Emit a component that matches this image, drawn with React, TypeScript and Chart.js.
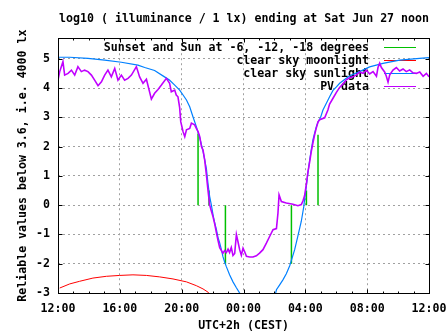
import React, { useEffect, useRef } from "react";
import { Chart, registerables } from "chart.js";
Chart.register(...registerables);

const FONT_FAMILY = "'DejaVu Sans Mono', 'Liberation Mono', monospace";
const TITLE = "log10 ( illuminance / 1 lx) ending at Sat Jun 27 noon";
const X_TITLE = "UTC+2h (CEST)";
const Y_TITLE = "Reliable values below 3.6, i.e. 4000 lx";
const START_HOUR = 12;
const X_MIN = 0;
const X_MAX = 24;
const X_TICK_STEP = 4;
const Y_MIN = -3;
const Y_MAX = 5.7;

const LABELS = [
  "Sunset and Sun at -6, -12, -18 degrees",
  "clear sky moonlight",
  "clear sky sunlight",
  "PV data",
];
const COLORS = ["#00c000", "#ff0000", "#0080ff", "#c000ff"];

// hours after 12:00 noon
const eventHours = [9.06, 9.77, 10.83, 15.1, 16.07, 16.82];
const eventValues = [2.45, 0.5, -2.0, -2.0, 0.5, 2.4];

const moonHours = [0.11, 0.76, 1.4, 2.26, 3.13, 3.99, 4.85, 5.72, 6.58, 7.44, 8.31, 8.95, 9.38, 9.7, 9.94];
const moonValues = [-2.83, -2.69, -2.6, -2.49, -2.43, -2.4, -2.38, -2.4, -2.45, -2.52, -2.62, -2.75, -2.86, -2.97, -3.1];

const sunHours = [
  0.0, 0.76, 1.94, 3.02, 4.1, 5.17, 5.61, 6.25, 6.89, 7.21, 7.55, 7.87, 8.09, 8.31, 8.52, 8.73, 8.95,
  9.17, 9.38, 9.6, 9.7, 9.81, 9.92, 10.03, 10.14, 10.25, 10.35, 10.46, 10.57, 10.67, 10.78, 10.89,
  11.1, 11.32, 11.54, 11.75, 12.0, 13.9,
  14.13, 14.34, 14.55, 14.77, 14.99, 15.31, 15.52, 15.74, 15.9, 15.95, 16.06, 16.17, 16.28, 16.38,
  16.49, 16.6, 16.71, 16.82, 16.99, 17.14, 17.36, 17.57, 17.79, 18.01, 18.22, 18.65, 18.87, 19.51,
  20.16, 21.02, 22.1, 23.39, 24.0,
];
const sunValues = [
  5.05, 5.05, 5.01, 4.95, 4.88, 4.78, 4.7, 4.6, 4.38, 4.27, 4.1, 3.93, 3.76, 3.59, 3.36, 3.02, 2.68,
  2.3, 1.85, 1.25, 0.75, 0.3, 0.01, -0.33, -0.61, -0.84, -1.1, -1.29, -1.52, -1.76, -1.94, -2.1,
  -2.38, -2.62, -2.82, -3.0, -3.4, -3.4,
  -2.89, -2.72, -2.55, -2.34, -2.07, -1.52, -1.05, -0.55, -0.05, 0.18, 0.62, 1.1, 1.54, 1.88,
  2.23, 2.46, 2.67, 2.84, 3.0, 3.25, 3.48, 3.7, 3.92, 4.04, 4.16, 4.33, 4.42, 4.56,
  4.72, 4.84, 4.95, 5.01, 5.04,
];

const pvHours = [
  0.0, 0.11, 0.32, 0.43, 0.65, 0.87, 1.08, 1.29, 1.51, 1.72, 1.94, 2.16, 2.37, 2.59, 2.81, 3.02,
  3.23, 3.45, 3.67, 3.88, 4.1, 4.31, 4.53, 4.75, 5.07, 5.28, 5.5, 5.72, 6.04, 6.25, 6.47, 6.69,
  7.01, 7.22, 7.33, 7.55, 7.65, 7.76, 7.87, 7.94, 8.09, 8.2, 8.31, 8.52, 8.63, 8.84, 8.95, 9.06,
  9.17, 9.28, 9.38, 9.49, 9.6, 9.7, 9.81, 9.92, 10.03, 10.14, 10.25, 10.35, 10.46, 10.57, 10.67,
  10.78, 10.89, 11.0, 11.1, 11.21, 11.32, 11.43, 11.54, 11.64, 11.75, 11.86, 11.97, 12.08, 12.19,
  12.4, 12.61, 12.83, 13.04, 13.26, 13.48, 13.69, 13.91, 14.13, 14.23, 14.3, 14.45, 14.77, 15.2,
  15.52, 15.74, 15.85, 15.95, 16.06, 16.17, 16.28, 16.38, 16.49, 16.6, 16.71, 16.82, 16.93, 17.25,
  17.46, 17.57, 17.79, 18.01, 18.22, 18.45, 18.65, 18.87, 19.08, 19.3, 19.52, 19.74, 19.95, 20.16,
  20.38, 20.6, 20.7, 20.81, 20.92, 21.14, 21.24, 21.35, 21.46, 21.67, 21.89, 22.1, 22.32, 22.53,
  22.75, 22.96, 23.18, 23.4, 23.62, 23.83, 24.0,
];
const pvValues = [
  4.27, 4.56, 4.9, 4.44, 4.5, 4.61, 4.44, 4.73, 4.56, 4.61, 4.56, 4.44, 4.27, 4.08, 4.21, 4.44,
  4.61, 4.38, 4.67, 4.27, 4.44, 4.27, 4.33, 4.44, 4.73, 4.38, 4.16, 4.3, 3.62, 3.82, 3.95, 4.1,
  4.33, 4.16, 3.87, 3.93, 3.76, 3.7, 3.33, 2.85, 2.51, 2.34, 2.57, 2.62, 2.8, 2.74, 2.62, 2.51,
  2.34, 2.0, 1.88, 1.54, 1.03, 0.52, 0.01, -0.2, -0.4, -0.65, -0.95, -1.2, -1.45, -1.55, -1.64,
  -1.55, -1.62, -1.5, -1.62, -1.45, -1.72, -1.65, -1.0, -1.24, -1.52, -1.71, -1.47, -1.6, -1.75,
  -1.77, -1.77, -1.73, -1.64, -1.52, -1.3, -1.07, -0.84, -0.8, -0.27, 0.35, 0.12, 0.07, 0.03,
  -0.02, 0.02, 0.15, 0.32, 0.69, 1.14, 1.48, 1.82, 2.12, 2.4, 2.64, 2.84, 2.92, 2.98,
  3.25, 3.45, 3.65, 3.85, 4.02, 4.15, 4.28, 4.35, 4.38, 4.45, 4.54, 4.5, 4.61, 4.48,
  4.56, 4.4, 4.7, 4.85, 4.7, 4.54, 4.4, 4.2, 4.45, 4.61, 4.7, 4.58, 4.65, 4.56,
  4.62, 4.52, 4.5, 4.55, 4.4, 4.5, 4.38,
];

const toPoints = (xs: number[], ys: number[]) => xs.map((x, i) => ({ x, y: ys[i] }));
const impulsePoints = (xs: number[], ys: number[]) =>
  xs.flatMap((x, i) => [
    { x, y: 0 },
    { x, y: ys[i] },
    { x, y: null as any },
  ]);

const font = (size: number) => ({ family: FONT_FAMILY, size, weight: "bold" as const, lineHeight: 1.2 });

const gnuplotFrame = {
  id: "gnuplotFrame",
  beforeDatasetsDraw(chart: any) {
    const { ctx, chartArea } = chart;
    ctx.save();
    ctx.font = `bold 11.6px ${FONT_FAMILY}`;
    ctx.textAlign = "right";
    ctx.textBaseline = "middle";
    const textRight = chartArea.right - 60;
    const sampleL = chartArea.right - 45;
    const sampleR = chartArea.right - 13;
    chart.data.datasets.forEach((ds: any, i: number) => {
      const y = chartArea.top + 10 + i * 13;
      ctx.fillStyle = "#000";
      ctx.fillText(ds.label, textRight, y);
      ctx.strokeStyle = ds.borderColor;
      ctx.lineWidth = 1;
      ctx.beginPath();
      ctx.moveTo(sampleL, Math.round(y) - 0.5);
      ctx.lineTo(sampleR, Math.round(y) - 0.5);
      ctx.stroke();
    });
    ctx.restore();
  },
  afterDatasetsDraw(chart: any) {
    const { ctx, chartArea, scales } = chart;
    const l = Math.round(chartArea.left) + 0.5;
    const r = Math.round(chartArea.right) + 0.5;
    const t = Math.round(chartArea.top) + 0.5;
    const b = Math.round(chartArea.bottom) + 0.5;
    ctx.save();
    ctx.strokeStyle = "#000";
    ctx.lineWidth = 1;
    ctx.beginPath();
    for (let h = X_MIN; h <= X_MAX; h += 1) {
      const px = Math.round(scales.x.getPixelForValue(h)) + 0.5;
      const len = h % X_TICK_STEP === 0 ? 4 : 2;
      ctx.moveTo(px, b);
      ctx.lineTo(px, b - len);
      ctx.moveTo(px, t);
      ctx.lineTo(px, t + len);
    }
    for (let v = Y_MIN; v <= Math.floor(Y_MAX); v += 1) {
      const py = Math.round(scales.y.getPixelForValue(v)) + 0.5;
      ctx.moveTo(l, py);
      ctx.lineTo(l + 4, py);
      ctx.moveTo(r, py);
      ctx.lineTo(r - 4, py);
    }
    ctx.stroke();
    ctx.strokeRect(l, t, r - l, b - t);
    ctx.restore();
  },
};

export default function App() {
  const ref = useRef<HTMLCanvasElement | null>(null);
  useEffect(() => {
    document.body.style.margin = "0";
    if (!ref.current) return;
    const chart = new Chart(ref.current, {
      type: "line",
      data: {
        datasets: [
          {
            label: LABELS[0],
            data: impulsePoints(eventHours, eventValues) as any,
            borderColor: COLORS[0],
            borderWidth: 1.5,
            pointRadius: 0,
            spanGaps: false,
            order: 4,
          },
          {
            label: LABELS[1],
            data: toPoints(moonHours, moonValues),
            borderColor: COLORS[1],
            borderWidth: 1,
            pointRadius: 0,
            order: 3,
          },
          {
            label: LABELS[2],
            data: toPoints(sunHours, sunValues),
            borderColor: COLORS[2],
            borderWidth: 1.2,
            pointRadius: 0,
            order: 2,
          },
          {
            label: LABELS[3],
            data: toPoints(pvHours, pvValues),
            borderColor: COLORS[3],
            borderWidth: 1.6,
            pointRadius: 0,
            order: 1,
          },
        ],
      },
      options: {
        responsive: false,
        animation: false,
        events: [],
        layout: { padding: { left: 0, right: 18, top: 0, bottom: 0 } },
        plugins: {
          legend: { display: false },
          tooltip: { enabled: false },
          title: {
            display: true,
            text: TITLE,
            color: "#000",
            align: "end",
            font: font(11.6),
            padding: { top: 11.7, bottom: 12.6 },
          },
        },
        scales: {
          x: {
            type: "linear",
            min: X_MIN,
            max: X_MAX,
            afterFit: (s: any) => {
              s.height = 42;
              s.paddingLeft = 0;
              s.paddingRight = 0;
            },
            ticks: {
              stepSize: X_TICK_STEP,
              color: "#000",
              font: font(11.6),
              padding: 9,
              maxRotation: 0,
              autoSkip: false,
              callback: (v: any) => {
                const hh = (START_HOUR + Number(v)) % 24;
                return `${String(hh).padStart(2, "0")}:00`;
              },
            },
            grid: { color: "#a0a0a0", lineWidth: 1, drawTicks: false },
            border: { display: false, dash: [2, 3] },
            title: {
              display: true,
              text: X_TITLE,
              color: "#000",
              font: font(11.6),
              padding: { top: 0, bottom: 2 },
            },
          },
          y: {
            type: "linear",
            min: Y_MIN,
            max: Y_MAX,
            afterFit: (s: any) => {
              s.width = 58;
              s.paddingTop = 0;
              s.paddingBottom = 0;
            },
            ticks: {
              stepSize: 1,
              includeBounds: false,
              color: "#000",
              font: font(11.6),
              padding: 8,
              callback: (v: any) => String(v),
            },
            grid: { color: "#a0a0a0", lineWidth: 1, drawTicks: false },
            border: { display: false, dash: [2, 3] },
            title: {
              display: true,
              text: Y_TITLE,
              color: "#000",
              font: font(11.6),
              padding: { top: 16, bottom: 0 },
            },
          },
        },
      },
      plugins: [gnuplotFrame],
    });
    return () => chart.destroy();
  }, []);
  return (
    <div style={{ width: 447, height: 335 }}>
      <canvas ref={ref} width={447} height={335} style={{ display: "block" }} />
    </div>
  );
}
